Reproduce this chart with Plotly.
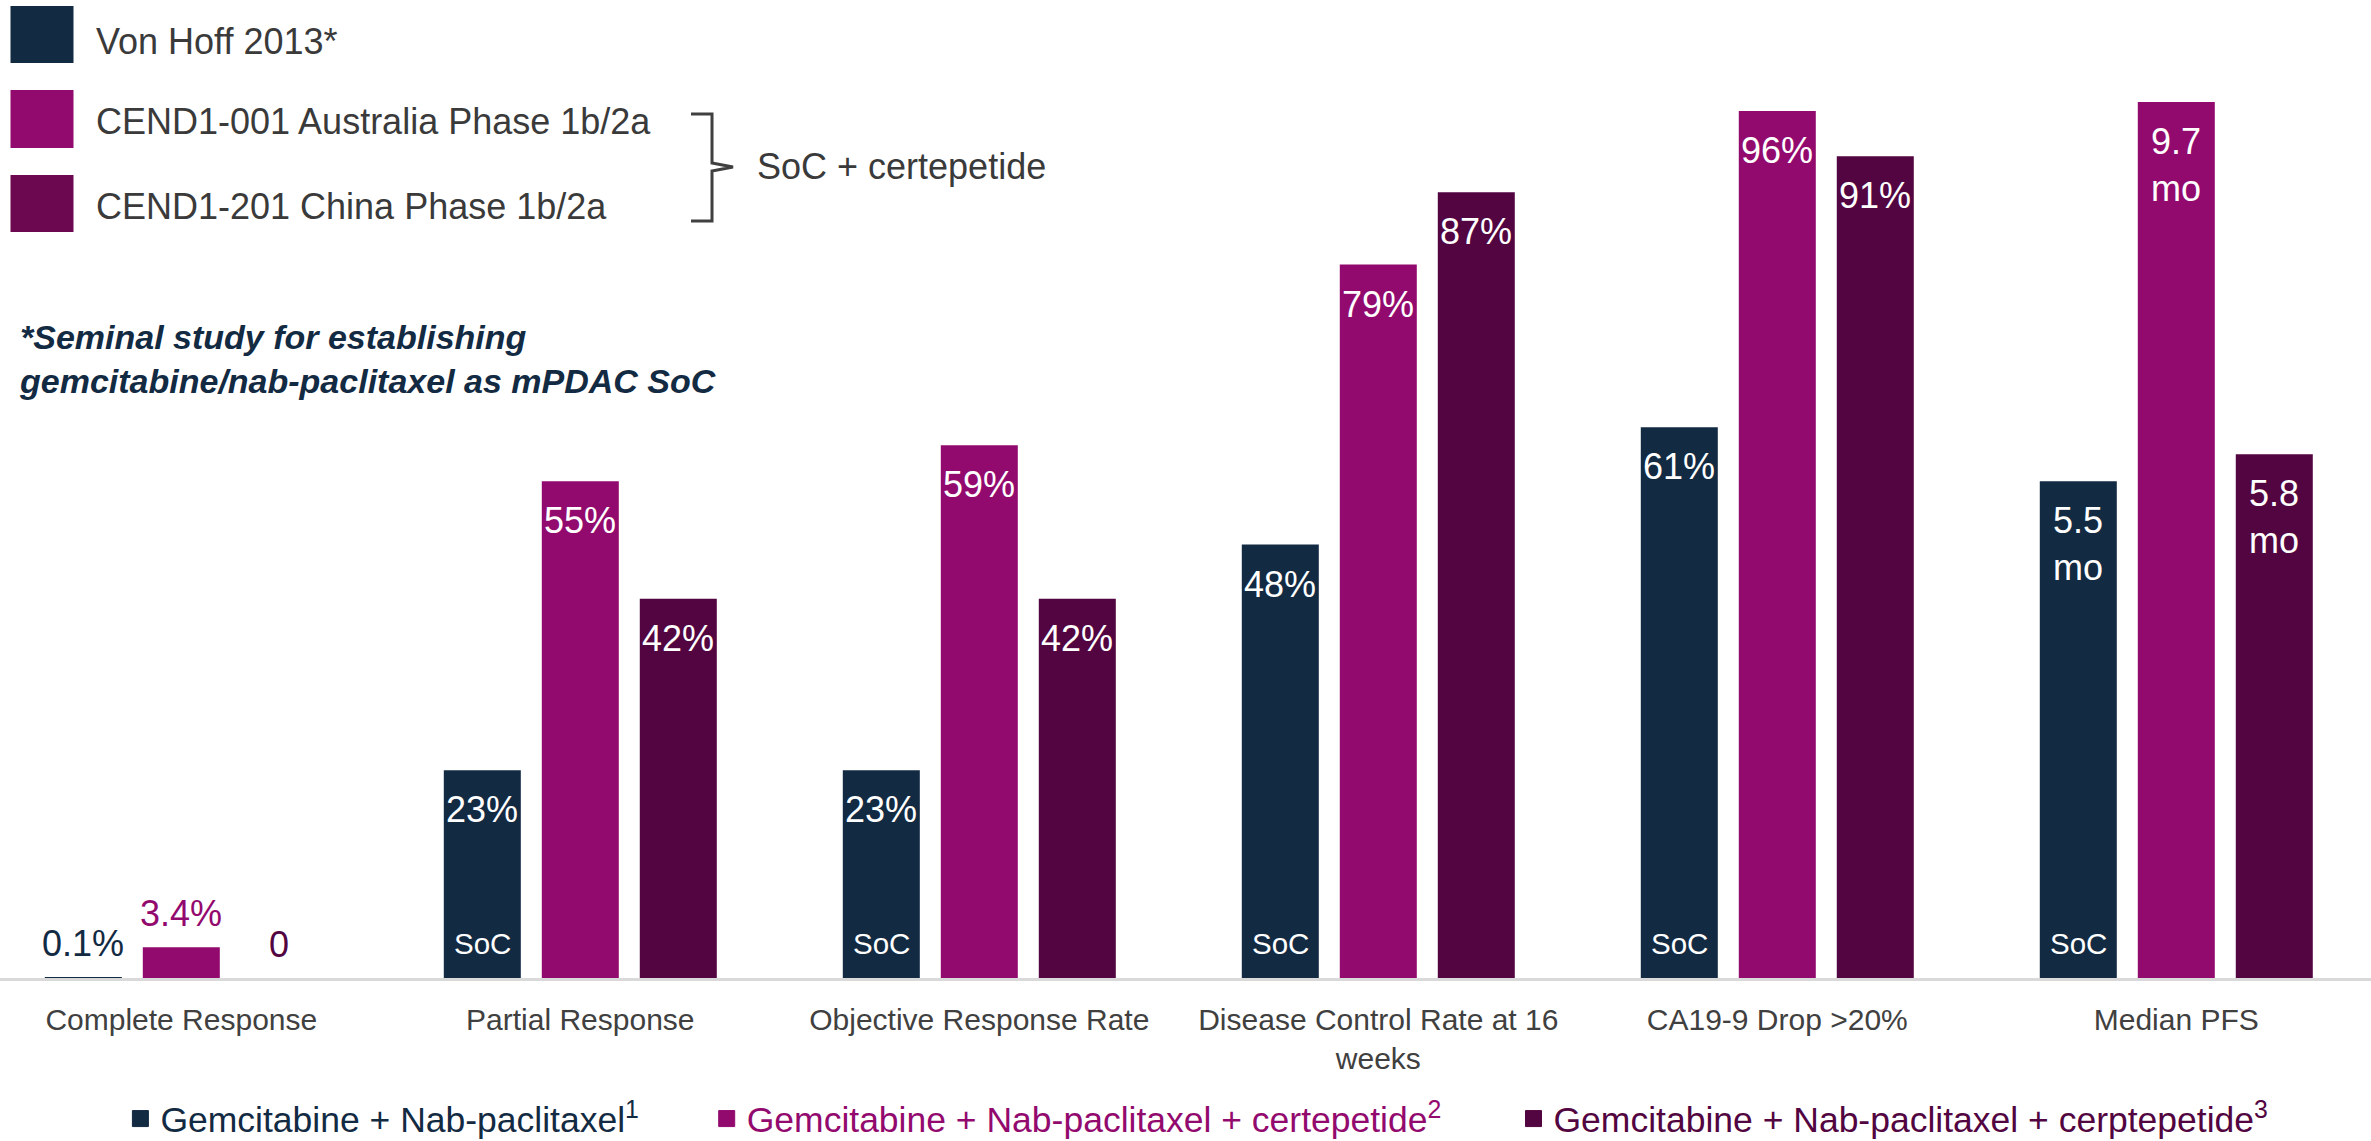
import plotly.graph_objects as go

# ---------------- data ----------------
categories = ["Complete Response", "Partial Response", "Objective Response Rate",
              "Disease Control Rate at 16<br>weeks", "CA19-9 Drop >20%", "Median PFS"]
series_names = ["Gemcitabine + Nab-paclitaxel<sup>1</sup>",
                "Gemcitabine + Nab-paclitaxel + certepetide<sup>2</sup>",
                "Gemcitabine + Nab-paclitaxel + cerptepetide<sup>3</sup>"]
# percentage metrics (first five categories)
von_hoff_pct = [0.1, 23, 23, 48, 61]
australia_pct = [3.4, 55, 59, 79, 96]
china_pct = [0, 42, 42, 87, 91]
# median PFS in months (last category)
von_hoff_pfs = 5.5
australia_pfs = 9.7
china_pfs = 5.8
soc_label = "SoC"

top_legend_labels = ["Von Hoff 2013*", "CEND1-001 Australia Phase 1b/2a", "CEND1-201 China Phase 1b/2a"]
brace_label = "SoC + certepetide"
footnote = "*Seminal study for establishing<br>gemcitabine/nab-paclitaxel as mPDAC SoC"

# ---------------- style ----------------
W, H = 2371, 1141
PLOT_BOTTOM = 978
PFS_SCALE = 10           # 1 month drawn as 10 units on the hidden value axis
NAVY = "#132A43"
MAGENTA = "#930A6E"
PURPLE = "#520540"
PURPLE_KEY = "#6B0850"
GRAY_TXT = "#404040"
FONT = "Liberation Sans, Arial, sans-serif"
colors = [NAVY, MAGENTA, PURPLE]
key_colors = [NAVY, MAGENTA, PURPLE_KEY]
legend_ids = ["legend", "legend2", "legend3"]
BAR_W = 0.193
BAR_STEP = 0.2456


def px_x(px):
    return px / W


def px_y(py):
    return 1 - py / PLOT_BOTTOM


series_pct = [von_hoff_pct, australia_pct, china_pct]
series_pfs = [von_hoff_pfs, australia_pfs, china_pfs]

fig = go.Figure()
annotations = []
xs = list(range(len(categories)))

for i, (pct, pfs) in enumerate(zip(series_pct, series_pfs)):
    heights = list(pct) + [pfs * PFS_SCALE]
    labels = [(f"{v:g}%" if v else "0") for v in pct] + [f"{pfs:g}<br>mo"]
    off = (i - 1) * BAR_STEP
    fig.add_trace(go.Bar(
        x=xs, y=heights, name=series_names[i],
        marker=dict(color=colors[i], line=dict(width=0)),
        width=BAR_W, offset=off - BAR_W / 2,
        showlegend=False, hoverinfo="skip",
    ))
    # legend key for the series (square swatch)
    fig.add_trace(go.Scatter(
        x=[None], y=[None], mode="markers", name=series_names[i],
        marker=dict(symbol="square", size=16, color=colors[i],
                    line=dict(width=1, color=colors[i])),
        legend=legend_ids[i], showlegend=True, hoverinfo="skip",
    ))
    for k, (h, lab) in enumerate(zip(heights, labels)):
        if h >= 10:
            annotations.append(dict(
                x=k + off, y=h, xref="x", yref="y", text=lab, showarrow=False,
                xanchor="center", yanchor="top", yshift=-17,
                font=dict(family=FONT, size=36, color="white")))
        else:
            annotations.append(dict(
                x=k + off, y=h, xref="x", yref="y", text=lab, showarrow=False,
                xanchor="center", yanchor="middle", yshift=34,
                font=dict(family=FONT, size=36, color=colors[i])))
        if i == 0 and h >= 10:
            annotations.append(dict(
                x=k + off, y=0, xref="x", yref="y", text=soc_label, showarrow=False,
                xanchor="center", yanchor="middle", yshift=35,
                font=dict(family=FONT, size=29.5, color="white")))

# ---------------- top-left key ----------------
shapes = []
key_boxes = [(6, 63), (90, 148), (175, 232)]
key_text_y = [41.3, 121.7, 206.6]
for (y0, y1), c, lab, ty in zip(key_boxes, key_colors, top_legend_labels, key_text_y):
    shapes.append(dict(type="rect", xref="paper", yref="paper",
                       x0=px_x(10.5), x1=px_x(73.5), y0=px_y(y1), y1=px_y(y0),
                       fillcolor=c, line=dict(width=0)))
    annotations.append(dict(x=px_x(94), y=px_y(ty), xref="paper", yref="paper",
                            text=lab, showarrow=False, xanchor="left", yanchor="middle",
                            font=dict(family=FONT, size=36, color="#3A3A3A")))

# brace
bp = [(691, 114), (712, 114), (712, 163), (733, 167), (712, 171), (712, 221), (691, 221)]
path = "M " + " L ".join(f"{px_x(a):.5f},{px_y(b):.5f}" for a, b in bp)
shapes.append(dict(type="path", xref="paper", yref="paper", path=path,
                   line=dict(color=GRAY_TXT, width=3)))
annotations.append(dict(x=px_x(755), y=px_y(166), xref="paper", yref="paper",
                        text=brace_label, showarrow=False, xanchor="left", yanchor="middle",
                        font=dict(family=FONT, size=36, color="#3A3A3A")))
annotations.append(dict(x=px_x(17), y=px_y(358.5), xref="paper", yref="paper",
                        text="<b><i>" + footnote + "</i></b>", showarrow=False,
                        xanchor="left", yanchor="middle", align="left",
                        font=dict(family=FONT, size=34, color=NAVY)))

legend_common = dict(orientation="h", yanchor="middle", xanchor="left",
                     bgcolor="rgba(0,0,0,0)", borderwidth=0, y=px_y(1119),
                     itemclick=False, itemdoubleclick=False)
legend_icon_centers = [140.4, 726.7, 1533.5]
legend_colors = [NAVY, MAGENTA, PURPLE]
legend_layout = {}
for lid, cx, c in zip(legend_ids, legend_icon_centers, legend_colors):
    legend_layout[lid] = dict(**legend_common, x=px_x(cx - 20),
                              font=dict(family=FONT, size=35.5, color=c))

fig.update_layout(
    width=W, height=H,
    margin=dict(l=0, r=0, t=0, b=H - PLOT_BOTTOM, pad=0, autoexpand=False),
    paper_bgcolor="white", plot_bgcolor="white",
    barmode="overlay",
    xaxis=dict(range=[-0.4544, 5.488], tickmode="array", tickvals=xs, ticktext=categories,
               showgrid=False, zeroline=False, showline=True, linecolor="#D9D9D9", linewidth=3,
               ticks="", ticklabelstandoff=13, automargin=False,
               tickfont=dict(family=FONT, size=30, color=GRAY_TXT), fixedrange=True),
    yaxis=dict(range=[0, 108.3], visible=False, fixedrange=True),
    annotations=annotations, shapes=shapes,
    showlegend=True,
    **legend_layout,
)

fig.write_html("out.html", config={"displayModeBar": False})
